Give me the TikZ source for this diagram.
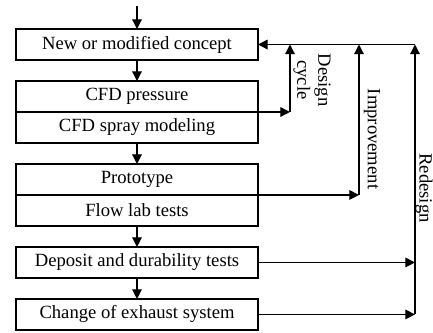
\documentclass[tikz,border=0pt]{standalone}
\usepackage{fontspec}
\setmainfont{Liberation Serif}
\usetikzlibrary{arrows.meta,positioning}

\begin{document}
\begin{tikzpicture}[x=0.02cm,y=-0.02cm]
  % Define box and arrow styles
  \tikzset{cell/.style={draw, line width=0.7pt, outer sep=0pt, inner sep=0pt,
      minimum width=4.84cm, minimum height=0.62cm, font=\fontsize{10.6}{12.5}\selectfont}}
  \tikzset{link/.style={line width=0.7pt, -{Triangle[length=5.5pt,width=5.5pt]}}}
  \tikzset{tag/.style={rotate=-90, align=center, inner sep=0pt, font=\fontsize{10.6}{12}\selectfont}}
  \useasboundingbox (0,0) rectangle (433,332);
  % Boxes of the main chain
  \node[cell] (concept) at (137,44.5) {New or modified concept};
  \node[cell, below=0.42cm of concept] (pressure) {CFD pressure};
  \node[cell, below=0pt of pressure] (spray) {CFD spray modeling};
  \node[cell, below=0.42cm of spray] (proto) {Prototype};
  \node[cell, below=0pt of proto] (labtest) {Flow lab tests};
  \node[cell, below=0.42cm of labtest] (deposit) {Deposit and durability tests};
  \node[cell, below=0.42cm of deposit] (exhaust) {Change of exhaust system};
  % Downward arrows
  \coordinate (start) at (137,6);
  \draw[link] (start) -- (concept);
  \draw[link] (concept) -- (pressure);
  \draw[link] (spray) -- (proto);
  \draw[link] (labtest) -- (deposit);
  \draw[link] (deposit) -- (exhaust);
  % Feedback loops on the right
  \coordinate (xd) at (290,44.5);
  \coordinate (xi) at (359,44.5);
  \coordinate (xr) at (415,44.5);
  \draw[link] (xr) -- (concept.east);
  \draw[link] (pressure.south east) -- (pressure.south east -| xd);
  \draw[link] (pressure.south east -| xd) -- (xd);
  \draw[link] (labtest.north east) -- (labtest.north east -| xi);
  \draw[link] (labtest.north east -| xi) -- (xi);
  \draw[link] (deposit.east) -- (deposit.east -| xr);
  \draw[link] (exhaust.east) -- (exhaust.east -| xr);
  \draw[link] (exhaust.east -| xr) -- (xr);
  % Loop labels
  \node[tag] (dclabel) at (312,80) {Design\\cycle};
  \node[tag] (implabel) at (372,139) {Improvement};
  \node[tag] (redlabel) at (424,188) {Redesign};
\end{tikzpicture}
\end{document}
